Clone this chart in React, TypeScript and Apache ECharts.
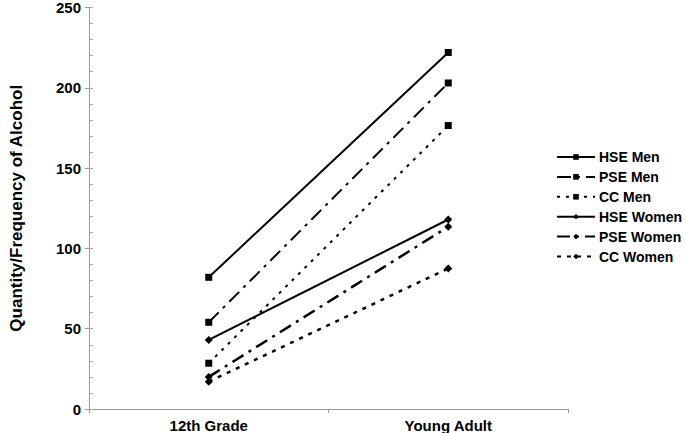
import React, { useEffect, useRef } from "react";
import * as echarts from "echarts";

const categories = ["12th Grade", "Young Adult"];
const seriesNames = ["HSE Men", "PSE Men", "CC Men", "HSE Women", "PSE Women", "CC Women"];
const hseMen = [82, 222];
const pseMen = [54, 203];
const ccMen = [28.5, 176.5];
const hseWomen = [43, 118];
const pseWomen = [20, 113.5];
const ccWomen = [17, 87.5];

const FONT = "'Liberation Sans', Arial, sans-serif";

export default function App() {
  const ref = useRef<HTMLDivElement>(null);
  useEffect(() => {
    if (!ref.current) return;
    const chart = echarts.init(ref.current, null, { renderer: "svg" });
    const mk = (name: string, data: number[], symbol: string, size: number, type: any, width: number) => ({
      name,
      type: "line",
      data,
      symbol,
      symbolSize: size,
      lineStyle: { color: "#000", width, type },
      itemStyle: { color: "#000" },
      yAxisIndex: 0,
    });
    const diamond = "path://M0,-1L1,0L0,1L-1,0Z";
    chart.setOption({
      animation: false,
      backgroundColor: "#fff",
      grid: { left: 82, top: 6, right: 118, bottom: 24, containLabel: false },
      legend: {
        orient: "vertical",
        left: 551,
        top: 145,
        itemWidth: 38,
        itemHeight: 7,
        itemGap: 5.9,
        textStyle: { fontFamily: FONT, fontWeight: "bold", fontSize: 14, lineHeight: 14, color: "#000", padding: [0, 0, 0, -1] },
        data: seriesNames,
      },
      xAxis: {
        type: "category",
        data: categories,
        boundaryGap: true,
        axisLine: { lineStyle: { color: "#999", width: 1 } },
        axisTick: { show: true, length: 4, lineStyle: { color: "#999" } },
        axisLabel: { fontFamily: FONT, fontWeight: "bold", fontSize: 15, color: "#000", margin: 9 },
      },
      yAxis: [
        {
          type: "value",
          min: 0,
          max: 250,
          interval: 50,
          name: "Quantity/Frequency of Alcohol",
          nameLocation: "middle",
          nameGap: 64,
          nameTextStyle: { fontFamily: FONT, fontWeight: "bold", fontSize: 17, color: "#000" },
          axisLine: { show: true, lineStyle: { color: "#999", width: 1 } },
          axisTick: { show: true, length: 4, lineStyle: { color: "#999" } },
          axisLabel: { fontFamily: FONT, fontWeight: "bold", fontSize: 15, color: "#000", margin: 8 },
          splitLine: { show: false },
        },
        {
          type: "value",
          position: "left",
          min: 0,
          max: 250,
          interval: 10,
          axisLine: { show: false },
          axisTick: { show: true, inside: true, length: 4, lineStyle: { color: "#aaa" } },
          axisLabel: { show: false },
          splitLine: { show: false },
        },
      ],
      series: [
        mk("HSE Men", hseMen, "rect", 7, "solid", 2),
        mk("PSE Men", pseMen, "rect", 7, [14, 6, 3, 6], 2),
        mk("CC Men", ccMen, "rect", 7, [3, 6], 2),
        mk("HSE Women", hseWomen, diamond, 8, "solid", 2),
        mk("PSE Women", pseWomen, diamond, 8, [13, 6, 3, 6], 2.5),
        mk("CC Women", ccWomen, diamond, 8, [4, 6], 2.5),
      ],
    });
    return () => chart.dispose();
  }, []);
  return <div ref={ref} style={{ width: 686, height: 433, position: "absolute", left: 0, top: 0 }} />;
}
